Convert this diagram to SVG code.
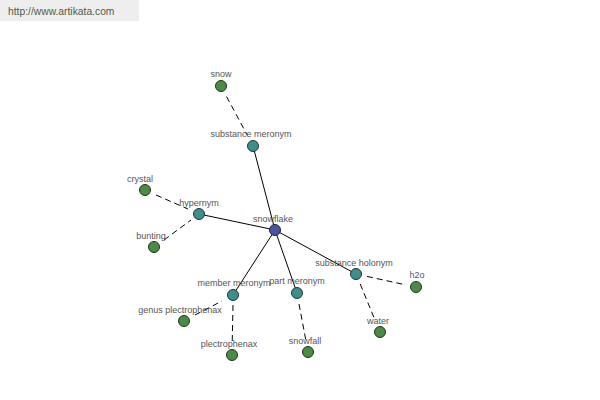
<svg xmlns="http://www.w3.org/2000/svg" width="600" height="400" viewBox="0 0 600 400">
<style>
text{font-family:"Liberation Sans",Arial,sans-serif;font-size:9px;fill:#555;text-anchor:middle}
.solid{stroke:#000;stroke-width:1;fill:none}
.dash{stroke:#000;stroke-width:1;fill:none;stroke-dasharray:6,4}
.leaf{fill:#4c8a48;stroke:#1d331c;stroke-width:1}
.cat{fill:#3f8d8d;stroke:#173838;stroke-width:1}
.root{fill:#4a55a2;stroke:#1c1f40;stroke-width:1}
</style>
<rect x="0" y="0" width="600" height="400" fill="#fff"/>
<rect x="0" y="0" width="139" height="21" fill="#eeeeee"/>
<text x="8" y="15" style="font-size:10.3px;fill:#4f5a4f;text-anchor:start">http://www.artikata.com</text>
<g id="connectors">
<line class="solid" x1="275" y1="230" x2="253" y2="146"/>
<line class="solid" x1="275" y1="230" x2="199" y2="214"/>
<line class="solid" x1="275" y1="230" x2="233" y2="295"/>
<line class="solid" x1="275" y1="230" x2="297" y2="293"/>
<line class="solid" x1="275" y1="230" x2="356" y2="274"/>
<line class="dash" x1="226.6" y1="96.6" x2="247.4" y2="135.4"/>
<line class="dash" x1="156" y1="195" x2="188" y2="209"/>
<line class="dash" x1="164" y1="240" x2="191" y2="220"/>
<line class="dash" x1="195" y1="315" x2="222" y2="301"/>
<line class="dash" x1="233" y1="305" x2="232.2" y2="343"/>
<line class="dash" x1="299" y1="304" x2="306" y2="341"/>
<line class="dash" x1="367" y1="276.4" x2="404" y2="284.5"/>
<line class="dash" x1="360.2" y1="284" x2="375.4" y2="321"/>
</g>
<g id="snowflake"><circle class="root" cx="275" cy="230" r="5.5"/><text x="273" y="222">snowflake</text></g>
<g id="substance_meronym"><circle class="cat" cx="253" cy="146" r="5.5"/><text x="251" y="137">substance meronym</text></g>
<g id="snow"><circle class="leaf" cx="221" cy="86" r="5.5"/><text x="221" y="77">snow</text></g>
<g id="hypernym"><circle class="cat" cx="199" cy="214" r="5.5"/><text x="199" y="206">hypernym</text></g>
<g id="crystal"><circle class="leaf" cx="145" cy="190" r="5.5"/><text x="140" y="182">crystal</text></g>
<g id="bunting"><circle class="leaf" cx="154" cy="247" r="5.5"/><text x="151" y="239">bunting</text></g>
<g id="member_meronym"><circle class="cat" cx="233" cy="295" r="5.5"/><text x="234" y="286">member meronym</text></g>
<g id="genus_plectrophenax"><circle class="leaf" cx="184" cy="321" r="5.5"/><text x="180" y="313">genus plectrophenax</text></g>
<g id="plectrophenax"><circle class="leaf" cx="232" cy="355" r="5.5"/><text x="229" y="347">plectrophenax</text></g>
<g id="part_meronym"><circle class="cat" cx="297" cy="293" r="5.5"/><text x="297" y="284">part meronym</text></g>
<g id="snowfall"><circle class="leaf" cx="308" cy="352" r="5.5"/><text x="305" y="344">snowfall</text></g>
<g id="substance_holonym"><circle class="cat" cx="356" cy="274" r="5.5"/><text x="354" y="266">substance holonym</text></g>
<g id="h2o"><circle class="leaf" cx="416" cy="287" r="5.5"/><text x="417" y="278">h2o</text></g>
<g id="water"><circle class="leaf" cx="380" cy="332" r="5.5"/><text x="378" y="324">water</text></g>
</svg>
